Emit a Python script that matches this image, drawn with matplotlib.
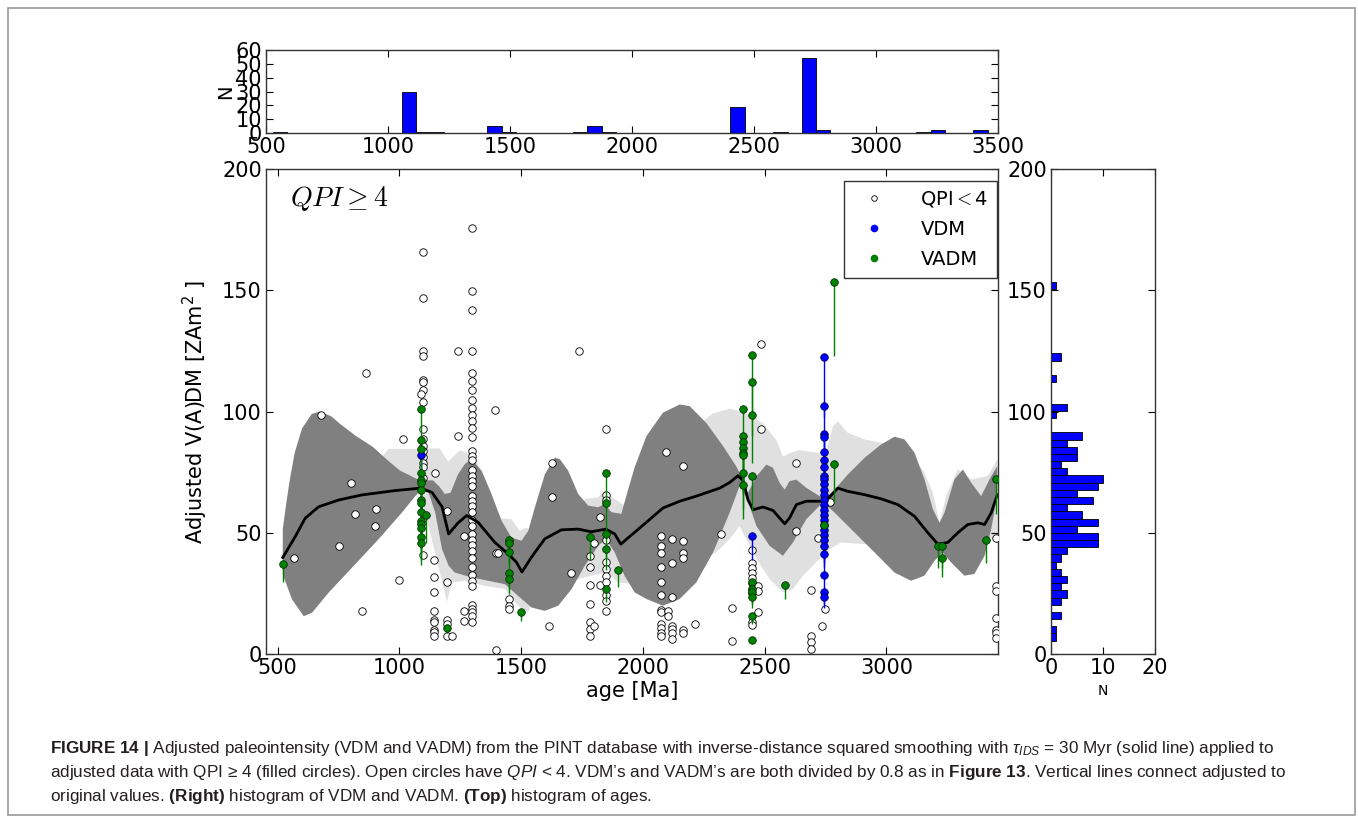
import numpy as np
import matplotlib
matplotlib.use("Agg")
import matplotlib.pyplot as plt
from matplotlib.patches import Rectangle

plt.rcParams['font.family'] = ['DejaVu Sans']
plt.rcParams['mathtext.fontset'] = 'custom'
plt.rcParams['mathtext.rm'] = 'Liberation Sans'
plt.rcParams['mathtext.it'] = 'Liberation Sans:italic'
plt.rcParams['mathtext.bf'] = 'Liberation Sans:bold'

# ---- data ----
ADJ_FACTOR = 0.8  # original = adjusted * 0.8 (caption: divided by 0.8)

# open circles, QPI < 4
open_age = [568, 679, 750, 802, 816, 847, 862, 898, 902, 998, 1014,
            1097, 1097, 1097, 1097, 1097, 1097, 1097, 1097, 1097, 1097,
            1097, 1097, 1097, 1097, 1097, 1097, 1097, 1090,
            1147, 1143, 1143, 1143, 1143, 1143, 1143, 1143, 1143, 1143,
            1197, 1197, 1197, 1197, 1197, 1216, 1239, 1239, 1266, 1266, 1266,
            1298, 1298, 1298, 1298, 1298, 1298, 1298, 1298, 1298, 1298,
            1298, 1298, 1298, 1298, 1298, 1298, 1298, 1298, 1298, 1298,
            1298, 1298, 1298, 1298, 1298, 1298, 1298, 1298, 1298, 1298,
            1298, 1298, 1298, 1298, 1298, 1298, 1298, 1298, 1298, 1298,
            1394, 1397, 1397, 1404, 1449, 1449, 1449, 1613, 1625, 1627, 1703, 1738,
            1784, 1784, 1784, 1784, 1784, 1784, 1784, 1799, 1799, 1822, 1822,
            1848, 1848, 1848, 1848, 1848, 1848, 1848, 1848, 1848, 1848, 1848,
            2074, 2074, 2074, 2074, 2074, 2074, 2074, 2074, 2074, 2074, 2074, 2074,
            2093, 2103, 2103, 2119, 2119, 2119, 2119, 2119, 2119, 2119,
            2164, 2164, 2164, 2164, 2164, 2164, 2215, 2319, 2367, 2367,
            2449, 2449, 2449, 2449, 2449, 2449, 2449, 2449, 2449, 2449,
            2471, 2471, 2471, 2484, 2484, 2630, 2630,
            2691, 2691, 2691, 2691, 2719, 2735, 2748, 2770,
            3450, 3450, 3450, 3450, 3450, 3450, 3450]
open_val = [39.7, 98.5, 44.7, 70.6, 57.9, 17.6, 115.7, 52.6, 59.6, 30.6, 88.7,
            165.8, 146.8, 124.9, 123.0, 113.1, 112.2, 108.7, 103.9, 92.8, 88.7,
            85.9, 83.8, 81.1, 78.8, 77.1, 72.6, 40.7, 107.2,
            74.6, 38.8, 31.6, 25.6, 17.6, 13.9, 13.2, 9.7, 8.9, 7.5,
            13.9, 12.3, 7.5, 58.8, 29.6, 7.5, 124.8, 89.7, 48.5, 17.6, 13.6,
            175.8, 149.8, 141.7, 124.8, 115.9, 112.7, 108.7, 104.9, 101.4, 98.7,
            95.9, 93.4, 89.3, 83.8, 81.5, 79.8, 76.0, 73.6, 71.2, 69.1,
            65.0, 62.9, 60.9, 58.6, 55.4, 52.6, 49.6, 47.1, 44.8, 42.3,
            39.6, 35.9, 32.7, 29.9, 27.9, 20.3, 18.7, 17.2, 15.5, 13.4,
            100.7, 41.6, 1.8, 41.6, 22.7, 20.0, 18.7, 11.7, 64.6, 78.8, 33.6, 124.8,
            40.5, 35.9, 28.6, 20.6, 13.4, 10.3, 7.5, 45.8, 11.7, 56.7, 28.6,
            92.8, 65.7, 63.5, 47.1, 37.8, 35.1, 32.0, 29.6, 24.5, 21.7, 17.6,
            48.5, 44.4, 41.6, 35.9, 29.6, 24.5, 18.3, 17.2, 12.4, 10.7, 8.7, 7.5,
            83.5, 17.6, 15.5, 47.5, 37.5, 23.6, 11.7, 10.3, 8.7, 6.3,
            77.6, 46.7, 41.6, 39.6, 9.9, 8.7, 12.5, 49.6, 18.9, 5.4,
            42.7, 37.5, 35.5, 33.4, 31.4, 29.4, 26.6, 25.3, 13.0, 11.9,
            28.2, 26.0, 17.2, 127.8, 92.8, 78.8, 50.8,
            26.5, 7.5, 4.8, 2.0, 47.7, 11.6, 18.6, 62.7,
            47.7, 28.2, 26.0, 15.0, 10.0, 8.7, 6.6]

# VDM (filled blue)
vdm_age = [1087, 2449] + [2743] * 26
vdm_val = [82.1, 48.5,
           122.3, 102.1, 90.8, 89.5, 83.5, 79.8, 77.3, 73.5, 72.0, 70.0,
           67.8, 65.7, 63.6, 61.5, 59.5, 57.5, 55.4, 53.3, 51.3, 49.2,
           47.2, 44.6, 41.3, 32.4, 25.6, 23.7]

# VADM (filled green)
vadm_age = ([520] + [1087] * 15 + [1108, 1197] + [1449] * 5 + [1498, 1784]
            + [1848] * 5 + [1897] + [2410] * 8 + [2449] * 10
            + [2583, 2743, 2784, 2784, 3213, 3227, 3227, 3408, 3450])
vadm_val = ([37.1]
            + [101.0, 88.4, 84.5, 74.6, 71.6, 70.6, 67.8, 63.4, 62.3, 58.6,
               54.7, 53.7, 52.1, 48.4, 45.9]
            + [57.2, 10.7]
            + [47.1, 45.8, 42.1, 33.4, 30.9]
            + [17.2, 48.4]
            + [74.6, 62.3, 49.6, 43.4, 26.9]
            + [34.6]
            + [101.0, 89.7, 87.3, 84.8, 82.9, 81.9, 74.6, 69.5]
            + [123.4, 112.2, 98.4, 73.5, 29.6, 27.0, 25.7, 23.5, 15.5, 5.9]
            + [28.3, 53.3, 153.5, 78.5, 44.4, 44.4, 39.6, 47.1, 72.3])

# smoothed curve (tau_IDS = 30 Myr)
curve_age = [521, 572, 613, 668, 750, 846, 983, 1087, 1134, 1175, 1202, 1240, 1276,
             1323, 1391, 1446, 1480, 1503, 1542, 1597, 1665, 1734, 1788, 1848, 1884,
             1909, 1946, 2014, 2082, 2151, 2219, 2315, 2356, 2390, 2411, 2431, 2452,
             2493, 2534, 2561, 2582, 2602, 2630, 2671, 2743, 2770, 2800, 2841, 2910,
             2978, 3047, 3115, 3170, 3211, 3252, 3293, 3334, 3375, 3403, 3430, 3455]
curve_val = [39.8, 48.4, 56.0, 60.7, 63.5, 65.6, 67.4, 68.4, 66.6, 60.7, 49.5, 54.0, 57.1,
             54.3, 46.1, 41.3, 37.9, 33.8, 39.9, 47.5, 51.2, 51.5, 50.4, 51.5, 49.5,
             45.3, 48.5, 54.3, 60.2, 63.0, 65.1, 68.4, 70.7, 73.5, 71.6, 63.6, 59.5,
             60.6, 59.2, 56.1, 53.7, 56.1, 61.6, 63.0, 63.0, 65.1, 68.4, 67.1, 65.7,
             64.0, 61.6, 56.8, 50.0, 45.3, 46.0, 50.0, 53.4, 54.1, 53.4, 58.2, 65.7]

# dark grey band
dark_up_age = [521, 535, 550, 570, 600, 640, 674, 720, 756, 820, 892, 950, 1001, 1083,
               1138, 1165, 1186, 1210, 1240, 1268, 1296, 1337, 1378, 1419, 1460, 1501,
               1529, 1556, 1597, 1638, 1659, 1693, 1734, 1775, 1816, 1843, 1870, 1911,
               1938, 1966, 2014, 2082, 2151, 2192, 2260, 2329, 2383, 2411, 2431, 2466,
               2507, 2534, 2561, 2582, 2602, 2630, 2671, 2725, 2743, 2787, 2841, 2910,
               2978, 3033, 3074, 3115, 3156, 3191, 3218, 3238, 3279, 3314, 3348, 3389,
               3423, 3455]
dark_up_val = [51.6, 62, 72, 83, 93, 99, 100, 98, 94.9, 90, 85.3, 80, 75.7, 71.6,
               71.6, 68.9, 66, 66.5, 74, 78.3, 80.4, 75.6, 66, 55, 48, 46.7,
               50.8, 60.4, 74.1, 81, 80.3, 75.6, 66, 61.2, 60.5, 61.9, 58.5, 57.8,
               67.4, 77, 89.8, 99.5, 102.9, 102.2, 95.3, 85.7, 77.4, 71.9, 66.4, 73.3,
               78.1, 76.8, 70.6, 67.8, 71.3, 71.9, 68.5, 65.1, 63.7, 67.8, 74, 80.9,
               86.4, 89.6, 88.5, 83, 72, 59.6, 54.1, 58.2, 72, 76.1, 70.6, 65.1,
               72, 77.5]
dark_lo_age = [521, 559, 607, 641, 709, 805, 914, 1010, 1087, 1120, 1147, 1175, 1202,
               1227, 1296, 1364, 1433, 1487, 1542, 1597, 1652, 1707, 1761, 1816, 1848,
               1884, 1925, 1966, 2014, 2082, 2151, 2219, 2288, 2356, 2397, 2424, 2466,
               2520, 2575, 2616, 2671, 2725, 2743, 2787, 2869, 2951, 3033, 3101, 3156,
               3197, 3231, 3265, 3320, 3361, 3403, 3430, 3455]
dark_lo_val = [32.7, 22.5, 15.6, 17, 25.3, 35.6, 47.3, 58.3, 67.8, 66.4, 58.3, 43.2, 36.4,
               33.6, 31.6, 30.2, 28.8, 24, 19.2, 17.8, 19.9, 26.8, 36.4, 44.6, 47.4,
               41.9, 32.2, 25.4, 22.7, 19.9, 22.7, 29.5, 41.9, 58.3, 69.3, 65.2, 52.8,
               44.6, 40.5, 46, 55.6, 61.1, 62.4, 58.3, 50.1, 41.9, 33.6, 30.2, 32.3,
               38.4, 41.9, 37.8, 32.3, 33, 40.5, 51.5, 65.2]

# light grey band
light_up_age = [521, 700, 900, 955, 1087, 1165, 1200, 1248, 1300, 1350, 1391, 1419,
                1460, 1494, 1521, 1560, 1700, 1761, 1816, 1843, 1884, 1925, 1959,
                2050, 2200, 2260, 2288, 2356, 2424, 2493, 2548, 2575, 2602, 2643,
                2725, 2743, 2780, 2800, 2841, 2910, 2978, 3060, 3120, 3156, 3191,
                3218, 3245, 3293, 3350, 3416, 3455]
light_up_val = [45, 70, 78, 84.6, 84.6, 84.8, 79.3, 84.1, 82, 73, 60.4, 56,
                55.6, 50.8, 52.1, 50, 55, 63.9, 64.6, 67.4, 63.9, 61.2, 64,
                70, 90, 97.2, 99.2, 101.2, 99.2, 95.1, 88.2, 81.4, 82.8, 84.1,
                82.8, 80.2, 93.9, 96, 91.2, 88.5, 87.1, 85, 80, 74.7, 66.4,
                54.1, 65.2, 76.1, 72, 73.4, 80.2]
light_lo_age = [521, 700, 900, 1087, 1165, 1195, 1215, 1268, 1350, 1433, 1487, 1529,
                1560, 1700, 1788, 1848, 1898, 1966, 2028, 2110, 2219, 2301, 2356,
                2397, 2424, 2466, 2520, 2575, 2616, 2657, 2725, 2743, 2814, 2910,
                2978, 3060, 3150, 3218, 3300, 3403, 3455]
light_lo_val = [35, 50, 58, 66, 34, 21.5, 29.5, 30.2, 28.1, 26.8, 19.9, 17.2,
                25, 30, 32.3, 33.6, 29.5, 28.8, 33.6, 37.1, 37.8, 41.9, 47.4,
                52.8, 47.4, 39.2, 30.9, 25.4, 26.8, 32.3, 39.2, 41.9, 46, 45.3,
                43.9, 42.5, 40, 42, 40, 45, 50]

# top histogram of ages
age_bin_start = 528
age_bin_width = 58.6
age_counts = [1, 0, 0, 0, 0, 0, 0, 0, 0, 30, 1, 1, 0, 0, 0, 5, 1, 0, 0, 0,
              0, 1, 5, 1, 0, 0, 0, 0, 0, 0, 0, 0, 19, 0, 0, 1, 0, 54, 2, 0,
              0, 0, 0, 0, 0, 1, 2, 0, 0, 2]

# right histogram of VDM and VADM
dm_bin_start = 5.5
dm_bin_width = 2.962
dm_counts = [1, 1, 0, 2, 0, 2, 3, 2, 3, 2, 1, 2, 3, 9, 9, 5, 9, 6, 3, 8,
             5, 9, 10, 3, 2, 5, 5, 3, 6, 0, 0, 1, 3, 0, 0, 0, 1, 0, 0, 2,
             0, 0, 0, 0, 0, 0, 0, 0, 0, 1]

# ---- figure ----
W, H = 1358, 823
fig = plt.figure(figsize=(W / 100, H / 100), dpi=100)

def px_axes(left, top, right, bottom):
    return fig.add_axes([left / W, 1 - bottom / H, (right - left) / W, (bottom - top) / H])

def style(ax):
    ax.tick_params(direction='in', top=True, right=True, length=5, width=0.8,
                   labelsize=15, pad=3)
    for s in ax.spines.values():
        s.set_color('#333333')
        s.set_linewidth(1.0)

ax = px_axes(266, 169, 998, 654)
ax_top = px_axes(266, 50, 998, 133)
ax_r = px_axes(1051, 169, 1155, 654)

# bands
ax.fill(np.r_[light_up_age, light_lo_age[::-1]], np.r_[light_up_val, light_lo_val[::-1]],
        color='#e0e0e0', lw=0, zorder=1)
ax.fill(np.r_[dark_up_age, dark_lo_age[::-1]], np.r_[dark_up_val, dark_lo_val[::-1]],
        color='#808080', lw=0, zorder=2)

ax.plot(open_age, open_val, 'o', mfc='white', mec='black', ms=5.4, mew=0.6, zorder=3)
ax.plot(curve_age, curve_val, '-', color='black', lw=2, zorder=4)

vdm_a = np.array(vdm_val)
vadm_a = np.array(vadm_val)
ax.vlines(vdm_age, vdm_a * ADJ_FACTOR, vdm_a, colors='blue', lw=1, zorder=5)
ax.vlines(vadm_age, vadm_a * ADJ_FACTOR, vadm_a, colors='green', lw=1, zorder=5)
ax.plot(vdm_age, vdm_val, 'o', mfc='blue', mec='#000033', ms=5.5, mew=0.5, zorder=6)
ax.plot(vadm_age, vadm_val, 'o', mfc='green', mec='#002200', ms=5.5, mew=0.5, zorder=7)

ax.set_xlim(452, 3458)
ax.set_ylim(0, 200)
ax.set_xticks([500, 1000, 1500, 2000, 2500, 3000])
ax.set_yticks([0, 50, 100, 150, 200])
style(ax)
ax.set_xlabel('age [Ma]', fontsize=15, labelpad=2)
ax.set_ylabel('Adjusted V(A)DM [ZAm$^2$ ]', fontsize=15, labelpad=9,
              math_fontfamily='dejavusans')
ax.text(0.033, 0.94, r'$QPI \geq 4$', transform=ax.transAxes, fontsize=20,
        math_fontfamily='cm', va='center', ha='left')

h1, = ax.plot([], [], 'o', mfc='white', mec='black', ms=4, mew=0.6)
h2, = ax.plot([], [], 'o', mfc='blue', mec='blue', ms=4.5)
h3, = ax.plot([], [], 'o', mfc='green', mec='green', ms=4.5)
leg = ax.legend([h1, h2, h3], ['QPI$<$4', 'VDM', 'VADM'], loc='upper right',
                bbox_to_anchor=(0.999, 0.976), borderaxespad=0, fontsize=14,
                numpoints=1, fancybox=False, framealpha=1, edgecolor='#333333',
                handlelength=2.2, handletextpad=1.3, borderpad=0.45, labelspacing=0.55)
leg.get_frame().set_linewidth(1.0)
for t in leg.get_texts():
    t.set_math_fontfamily('cm')

# top histogram
ax_top.bar([age_bin_start + i * age_bin_width for i in range(len(age_counts))],
           age_counts, width=age_bin_width, align='edge', color='blue',
           edgecolor='black', lw=0.6)
ax_top.set_xlim(500, 3500)
ax_top.set_ylim(0, 60)
ax_top.set_xticks(range(500, 3501, 500))
ax_top.set_yticks(range(0, 61, 10))
style(ax_top)
ax_top.set_ylabel('N', fontsize=14, labelpad=0)

# right histogram
ax_r.barh([dm_bin_start + i * dm_bin_width for i in range(len(dm_counts))],
          dm_counts, height=dm_bin_width, align='edge', color='blue',
          edgecolor='black', lw=0.6)
ax_r.set_xlim(0, 20)
ax_r.set_ylim(0, 200)
ax_r.set_xticks([0, 10, 20])
ax_r.set_yticks([0, 50, 100, 150, 200])
style(ax_r)
ax_r.set_xlabel('N', fontsize=10, labelpad=4)

# frame and caption
fig.patches.append(Rectangle((8 / W, 1 - 815 / H), 1347 / W, 807 / H,
                             transform=fig.transFigure, fill=False,
                             edgecolor='#999999', lw=1.2))
cap_kw = dict(fontsize=12.3, family='Liberation Sans', color='#231f20',
              ha='left', va='center')
fig.text(50 / W, 1 - 749 / H,
         r'$\mathbf{FIGURE\ 14\ |}$ Adjusted paleointensity (VDM and VADM) from the PINT '
         r'database with inverse-distance squared smoothing with $\mathit{\tau_{IDS}}$ = 30 Myr '
         r'(solid line) applied to', **cap_kw)
fig.text(50 / W, 1 - 773 / H,
         'adjusted data with QPI \u2265 4 (filled circles). Open circles have '
         '$\\mathit{QPI}$ < 4. VDM\u2019s and VADM\u2019s are both divided by 0.8 as in '
         '$\\mathbf{Figure\\ 13}$. Vertical lines connect adjusted to', **cap_kw)
fig.text(50 / W, 1 - 797 / H,
         r'original values. $\mathbf{(Right)}$ histogram of VDM and VADM. '
         r'$\mathbf{(Top)}$ histogram of ages.', **cap_kw)

fig.savefig('out.png', dpi=100)
